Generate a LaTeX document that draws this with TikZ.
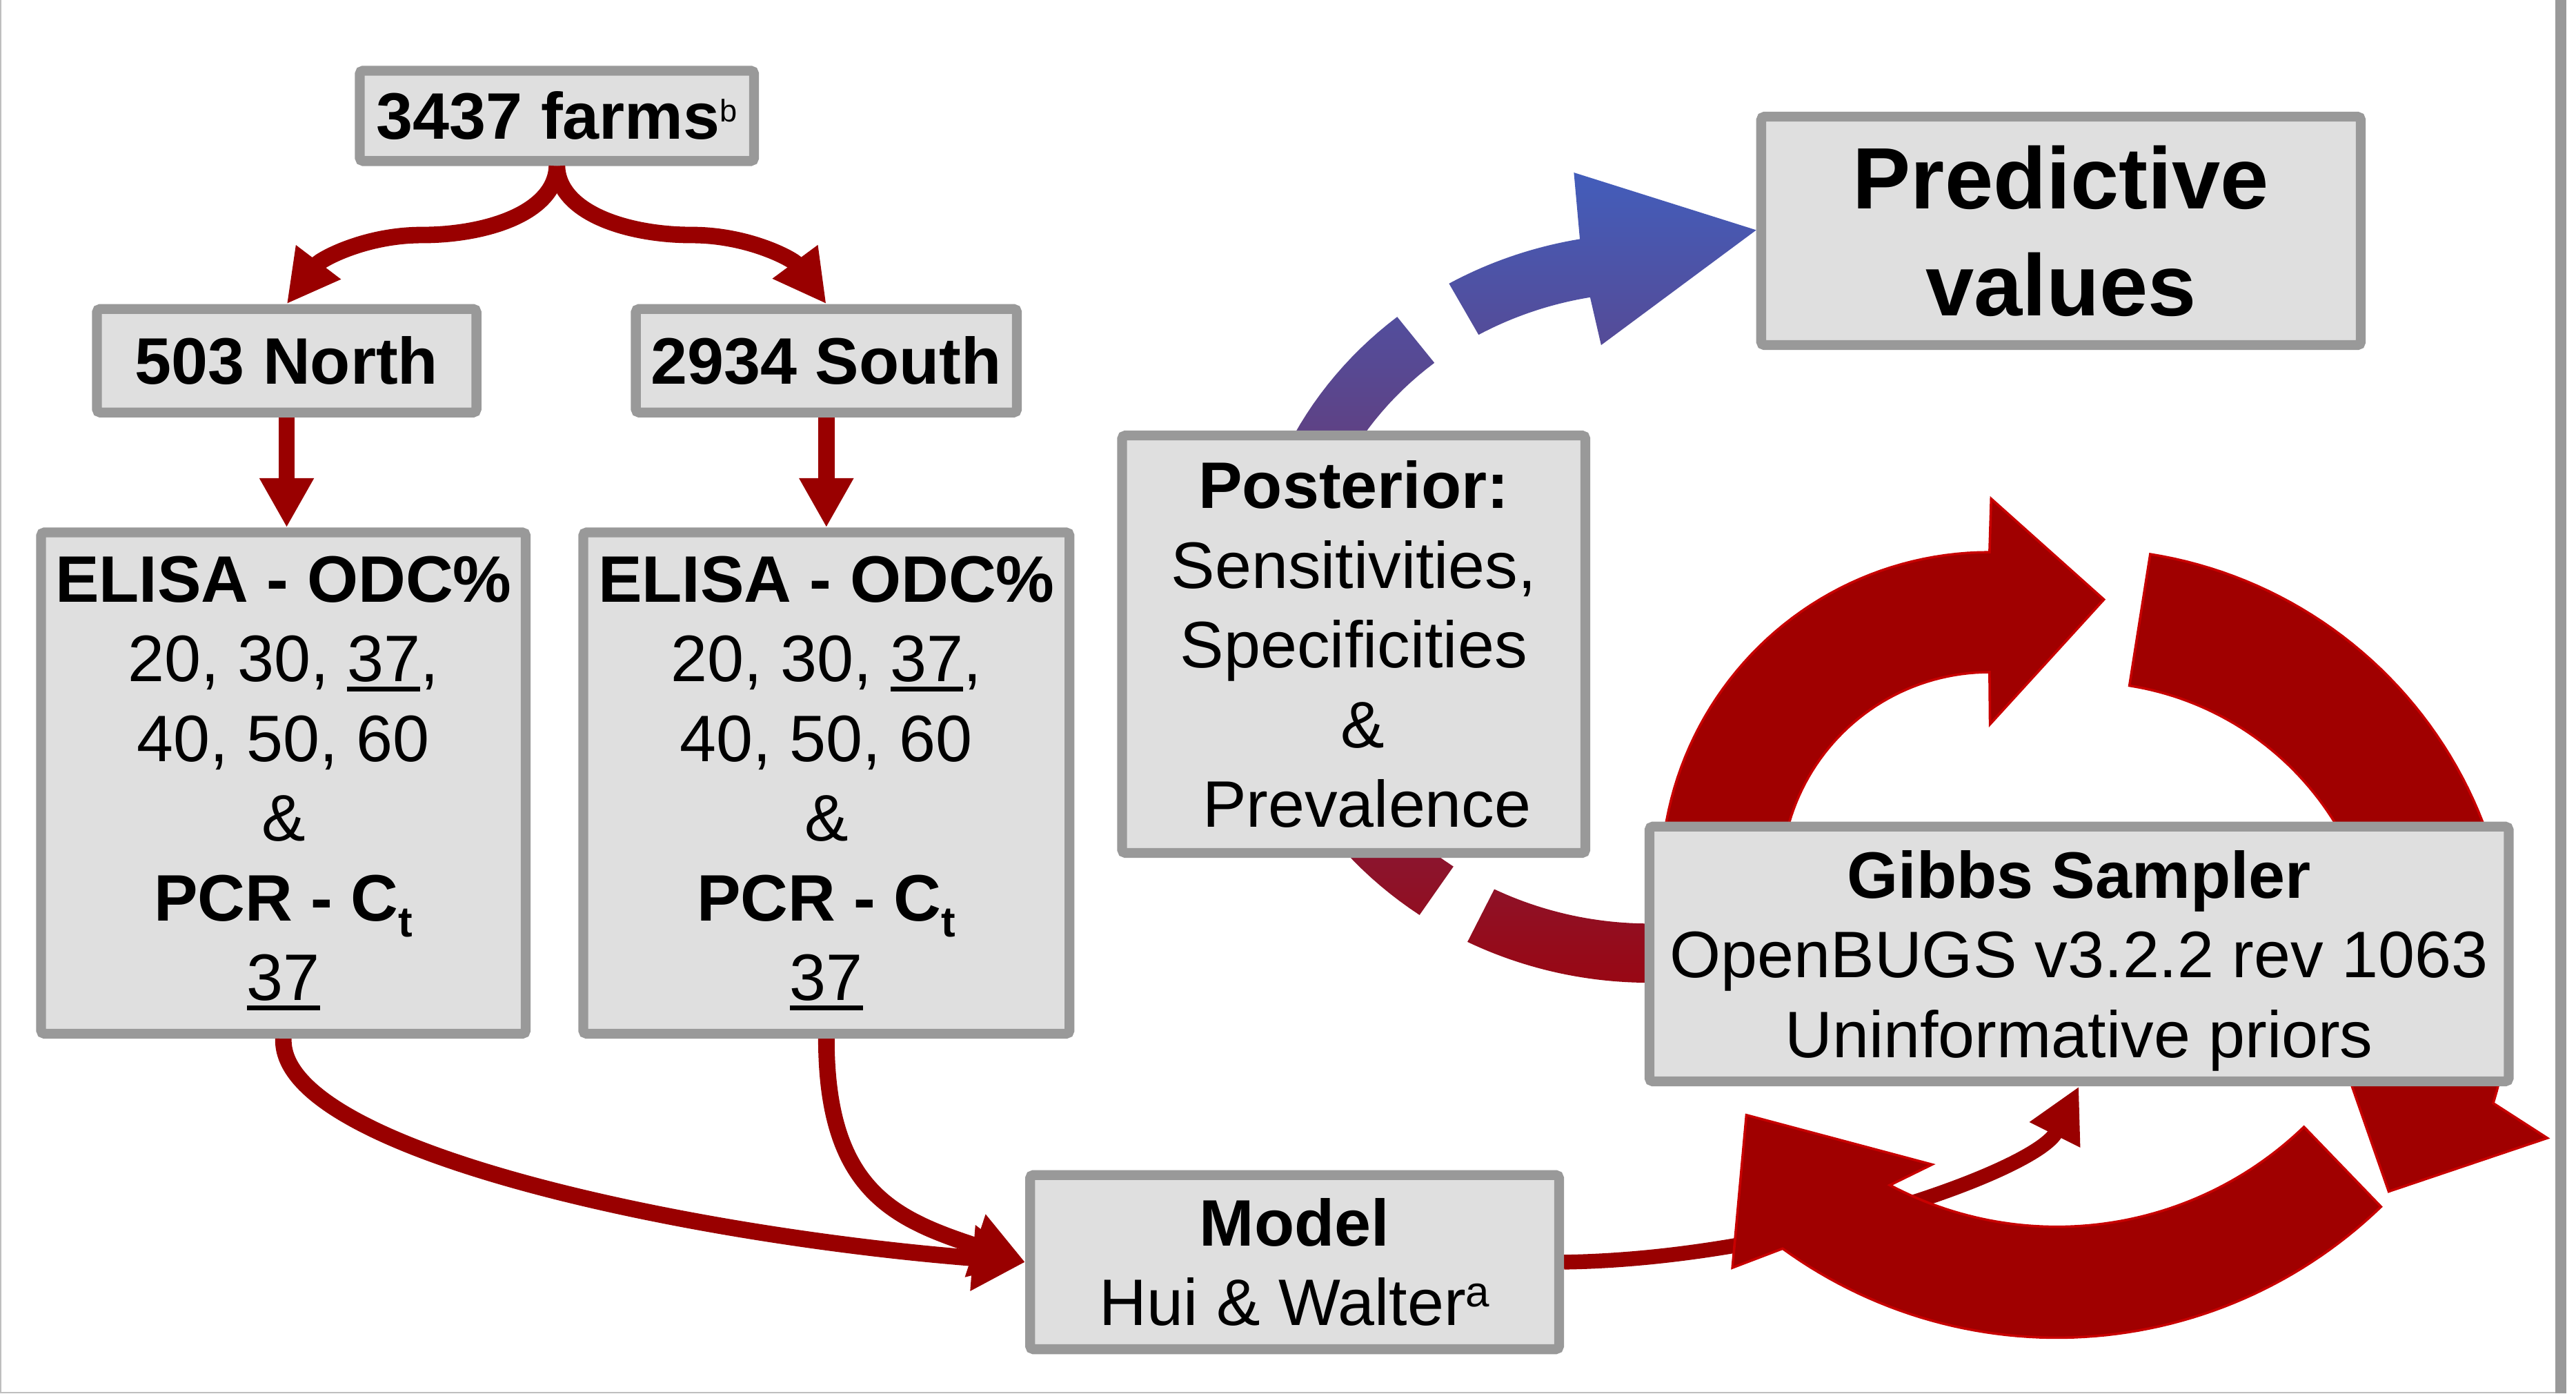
\documentclass[tikz,border=0pt]{standalone}
\usepackage{fontspec}
\setmainfont{Liberation Sans}
\usetikzlibrary{arrows.meta}
\pgfdeclarelayer{bg}
\pgfsetlayers{bg,main}
\definecolor{boxgray}{RGB}{153,153,153}
\definecolor{boxfill}{RGB}{223,223,223}
\definecolor{arrred}{RGB}{153,0,0}
\definecolor{ringred}{RGB}{160,0,0}
\definecolor{ringedge}{RGB}{200,0,0}
\definecolor{gradtop}{RGB}{65,95,190}
\definecolor{gradbot}{RGB}{155,5,15}
\definecolor{framegray}{RGB}{190,190,190}
\newsavebox{\ulbx}
\newcommand{\myul}[1]{\sbox{\ulbx}{#1}\rlap{\rule[-6pt]{\wd\ulbx}{2.8pt}}\usebox{\ulbx}}
\newcommand{\mysup}[3]{\raisebox{#2}{\fontsize{#1}{#1}\selectfont\mdseries #3}}
\newcommand{\mysubt}{\raisebox{-10pt}{\fontsize{26}{26}\selectfont t}}
\begin{document}
\begin{tikzpicture}[x=1pt,y=-1pt,
  box/.style={draw=boxgray, line width=6pt, fill=boxfill, rounded corners=2pt,
    inner sep=0pt, align=center, font=\fontsize{40}{48.5}\selectfont},
  conn/.style={draw=arrred, line width=10pt, -{Triangle[length=32pt,width=32pt]}},
  thinconn/.style={draw=arrred, line width=9pt, -{Triangle[length=33pt,width=32pt]}},
  ring/.style={fill=ringred, draw=ringedge, line width=1.5pt, line join=miter},
  shadegrad/.style={top color=gradtop, bottom color=gradbot}]
\useasboundingbox (0,0) rectangle (1568,848);

% boxes
\node[box, minimum width=240pt, minimum height=55pt] (farms) at (339,70.5)
  {\textbf{3437 farms}\mysup{19}{10.5pt}{b}};
\node[box, minimum width=231pt, minimum height=63pt] (north) at (174.5,219.5) {\textbf{503 North}};
\node[box, minimum width=232pt, minimum height=63pt] (south) at (503,219.5) {\textbf{2934 South}};
\node[box, minimum width=295pt, minimum height=305pt] (elisaL) at (172.5,476.5)
  {\textbf{ELISA - ODC\%}\\20, 30, \myul{37},\\40, 50, 60\\\&\\\textbf{PCR - C\mysubt}\\\myul{37}};
\node[box, minimum width=296pt, minimum height=305pt] (elisaR) at (503,476.5)
  {\textbf{ELISA - ODC\%}\\20, 30, \myul{37},\\40, 50, 60\\\&\\\textbf{PCR - C\mysubt}\\\myul{37}};
\node[box, minimum width=322pt, minimum height=106pt] (model) at (788,768)
  {\textbf{Model}\\Hui \& Walter\mysup{26}{11.5pt}{a}};
\node[box, minimum width=523pt, minimum height=155pt] (gibbs) at (1265.5,580.5)
  {\textbf{Gibbs Sampler}\\OpenBUGS v3.2.2 rev 1063\\\raisebox{0pt}[\height][0pt]{Uninformative priors}};
\node[box, minimum width=282pt, minimum height=254pt] (post) at (824,392)
  {\textbf{Posterior:}\\Sensitivities,\\Specificities\\\hspace*{11pt}\&\\\hspace*{16pt}Prevalence};
\node[box, minimum width=365pt, minimum height=139pt, font=\fontsize{53}{65}\selectfont\bfseries]
  (pred) at (1254.5,140.5) {Predictive\\values};

% connectors
\draw[conn] (farms.south) .. controls (338,130) and (295,143) .. (257,143)
  .. controls (222,143) and (195,158) .. (north.north);
\draw[conn] (farms.south) .. controls (340,130) and (383,143) .. (421,143)
  .. controls (456,143) and (483,158) .. (south.north);
\draw[conn, -{Triangle[length=30pt,width=31pt]}] (north.south) -- (north.south |- elisaL.north);
\draw[conn, -{Triangle[length=30pt,width=31pt]}] (south.south) -- (south.south |- elisaR.north);
\draw[conn, -{Triangle[length=32pt,width=38pt]}] (elisaL.south) .. controls (170,700) and (420,752) .. (model.west);
\draw[conn, -{Triangle[length=32pt,width=38pt]}] (elisaR.south) .. controls (503,725) and (545,742) .. (model.west);

\begin{pgfonlayer}{bg}
  % frame
  \draw[framegray, line width=1pt] (0.5,0) -- (0.5,848);
  \draw[framegray, line width=1pt] (0,847.5) -- (1562,847.5);
  \fill[boxgray] (1555.5,0) rectangle (1562,848);

  % gradient dashed arc: Gibbs -> Posterior -> Predictive values
  \begin{scope}
    \clip plot[domain=75:117,samples=40] ({1004+244*cos(\x)},{370+228*sin(\x)})
      -- plot[domain=117:75,samples=40] ({1004+208*cos(\x)},{370+192*sin(\x)}) -- cycle;
    \shade[shadegrad] (700,95) rectangle (1100,612);
  \end{scope}
  \begin{scope}
    \clip plot[domain=125:231,samples=60] ({1004+244*cos(\x)},{370+228*sin(\x)})
      -- plot[domain=231:125,samples=60] ({1004+208*cos(\x)},{370+192*sin(\x)}) -- cycle;
    \shade[shadegrad] (700,95) rectangle (1100,612);
  \end{scope}
  \begin{scope}
    \clip plot[domain=240:260,samples=20] ({1004+244*cos(\x)},{370+228*sin(\x)})
      -- (958,105) -- (1069,140) -- (974.6,210)
      -- plot[domain=260:240,samples=20] ({1004+208*cos(\x)},{370+192*sin(\x)}) -- cycle;
    \shade[shadegrad] (700,95) rectangle (1100,612);
  \end{scope}

  % Model -> Gibbs
  \draw[thinconn] (model.east) .. controls (1090,766) and (1240,712) .. (gibbs.south);

  % Gibbs cycle ring
  \filldraw[ring] plot[domain=175:270,samples=50] ({1211+200*cos(\x)},{536+200*sin(\x)})
    -- (1212,303.5) -- (1280.6,364.8) -- (1211.3,440.7)
    -- plot[domain=270:175,samples=50] ({1211+127*cos(\x)},{536+127*sin(\x)}) -- cycle;
  \filldraw[ring] plot[domain=-81:17,samples=60] ({1268+261*cos(\x)},{595+261*sin(\x)})
    -- (1550.5,692.5) -- (1454,725) -- (1410,599)
    -- plot[domain=5:-81,samples=60] ({1268+180*cos(\x)},{595+180*sin(\x)}) -- cycle;
  \filldraw[ring] plot[domain=46:126,samples=60] ({1252+284*cos(\x)},{530+284*sin(\x)})
    -- (1054.5,771.4) -- (1063,678.5) -- (1176,708.6)
    -- plot[domain=118:46,samples=60] ({1252+216.5*cos(\x)},{530+216.5*sin(\x)}) -- cycle;
\end{pgfonlayer}
\end{tikzpicture}
\end{document}
